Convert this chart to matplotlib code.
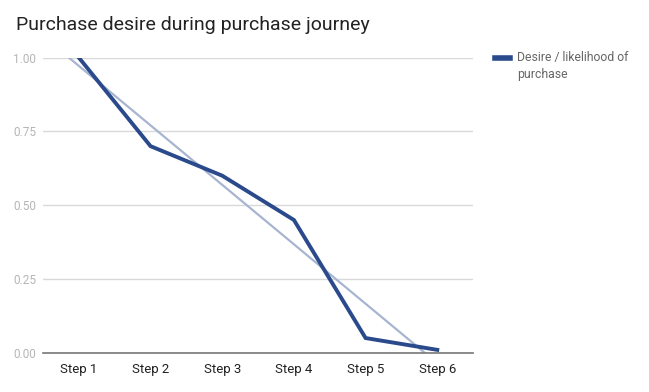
import matplotlib
matplotlib.use("Agg")
from matplotlib import pyplot as plt
import matplotlib.lines as mlines
import numpy as np

plt.rcParams['font.family'] = ['Roboto', 'DejaVu Sans']

steps = ["Step 1", "Step 2", "Step 3", "Step 4", "Step 5", "Step 6"]
desire = [1.00, 0.70, 0.60, 0.45, 0.05, 0.01]
yticks = [0.0, 0.25, 0.5, 0.75, 1.0]

line_col = "#2a4a8c"
trend_col = "#a7b5d0"

fig = plt.figure(figsize=(6.49, 3.92), dpi=100)
ax = fig.add_axes([0.0663, 0.100, 0.6627, 0.753])

x = np.arange(1, len(steps) + 1)
# linear trendline over the whole axis width
coef = np.polyfit(x, desire, 1)
xt = np.array([0.5, len(steps) + 0.5])
ax.plot(xt, np.polyval(coef, xt), color=trend_col, lw=1.6, zorder=2)
ax.plot(x, desire, color=line_col, lw=2.8, solid_joinstyle="miter", zorder=3)

ax.set_xlim(0.5, len(steps) + 0.5)
ax.set_ylim(0, 1)
ax.set_xticks(x)
ax.set_xticklabels(steps, color="#222222", fontsize=9.5)
ax.set_yticks(yticks)
ax.set_yticklabels(["%.2f" % v for v in yticks], color="#b5b5b5", fontsize=8.5)
ax.tick_params(length=0, pad=5)
ax.tick_params(axis="x", pad=7)
ax.grid(axis="y", color="#d9d9d9", lw=1)
for s in ["top", "right", "left"]:
    ax.spines[s].set_visible(False)
ax.spines["bottom"].set_color("#777777")
ax.spines["bottom"].set_linewidth(1.2)
ax.spines["bottom"].set_zorder(4)

fig.text(0.0246, 0.935, "Purchase desire during purchase journey",
         fontsize=14, color="#222222", va="center")

# legend: swatch lines up with the first text line
fig.add_artist(mlines.Line2D([0.763, 0.786], [0.852, 0.852], color=line_col, lw=4))
fig.text(0.797, 0.852, "Desire / likelihood of\npurchase", fontsize=8.8,
         color="#666666", va="top", linespacing=1.45,
         transform=fig.transFigure).set_y(0.871)

fig.savefig("out.png", dpi=100)
